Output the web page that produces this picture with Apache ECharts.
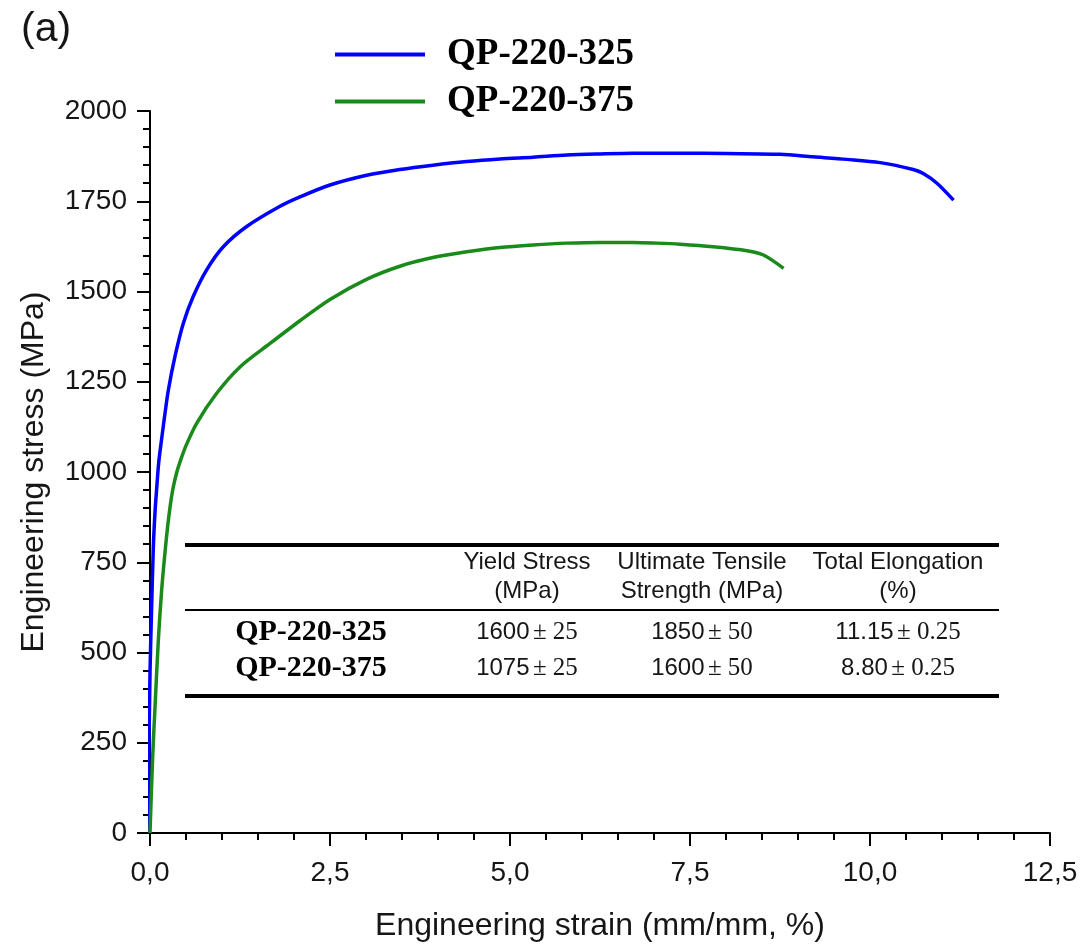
<!DOCTYPE html>
<html>
<head>
<meta charset="utf-8">
<script src="https://cdn.jsdelivr.net/npm/echarts@6/dist/echarts.min.js"></script>
<style>
html,body{margin:0;padding:0;background:#fff;}
#chart{width:1084px;height:949px;}
</style>
</head>
<body>
<div id="chart"></div>
<script>
// ---- data ----
const seriesNames = ['QP-220-325', 'QP-220-375'];

const strain325 = [-0.04, -0.02, 0.0, 0.023, 0.046, 0.07, 0.095, 0.12, 0.16, 0.2, 0.255, 0.347, 0.463, 0.60, 0.787, 1.018, 1.343, 1.806, 2.083, 2.5, 3.01, 3.47, 3.93, 4.40, 4.86, 5.32, 5.79, 6.25, 6.71, 7.36, 8.0, 8.75, 9.21, 9.68, 10.14, 10.6, 10.74, 10.93, 11.16];
const stress325 = [0, 166, 443, 627, 790, 890, 960, 1024, 1089, 1150, 1227, 1320, 1412, 1486, 1560, 1624, 1680, 1736, 1762, 1795, 1822, 1838, 1850, 1860, 1867, 1872, 1878, 1881, 1883, 1883, 1882, 1880, 1873, 1866, 1857, 1838, 1827, 1800, 1753];

const strain375 = [0.0, 0.037, 0.07, 0.116, 0.162, 0.20, 0.24, 0.28, 0.32, 0.37, 0.417, 0.50, 0.648, 0.926, 1.25, 1.667, 2.083, 2.5, 3.0, 3.47, 3.93, 4.40, 4.86, 5.32, 5.79, 6.25, 6.71, 7.04, 7.36, 7.82, 8.29, 8.52, 8.80];
const stress375 = [0, 211, 350, 535, 673, 760, 840, 905, 955, 998, 1028, 1073, 1135, 1218, 1291, 1356, 1419, 1478, 1533, 1570, 1594, 1610, 1622, 1629, 1634, 1636, 1636, 1634, 1631, 1624, 1613, 1601, 1564];

const tableHeaders = ['Yield Stress\n(MPa)', 'Ultimate Tensile\nStrength (MPa)', 'Total Elongation\n(%)'];
const tableRowLabels = ['QP-220-325', 'QP-220-375'];
const tableValues = [
  [['1600', '± 25'], ['1850', '± 50'], ['11.15', '± 0.25']],
  [['1075', '± 25'], ['1600', '± 50'], ['8.80', '± 0.25']]
];

const xTickLabels = ['0,0', '2,5', '5,0', '7,5', '10,0', '12,5'];

// ---- build ----
function zip(a, b) { return a.map((v, i) => [v, b[i]]); }

const SANS = '"Liberation Sans", Arial, sans-serif';
const SERIF = '"Liberation Serif", "Times New Roman", serif';
const TXT = '#161616';

const colX = [527, 702, 898];
const rowY = [632, 668];

const graphics = [];
// table rules
graphics.push({type:'line', shape:{x1:185, y1:545, x2:999, y2:545}, style:{stroke:'#000', lineWidth:4}});
graphics.push({type:'line', shape:{x1:185, y1:610, x2:999, y2:610}, style:{stroke:'#000', lineWidth:2}});
graphics.push({type:'line', shape:{x1:185, y1:696, x2:999, y2:696}, style:{stroke:'#000', lineWidth:4}});
tableHeaders.forEach((h, i) => {
  graphics.push({type:'text', style:{text:h, x:colX[i], y:577, align:'center', verticalAlign:'middle',
    fontFamily:SANS, fontSize:24, lineHeight:29, fill:TXT}});
});
tableRowLabels.forEach((r, j) => {
  graphics.push({type:'text', style:{text:r, x:311, y:rowY[j], align:'center', verticalAlign:'middle',
    fontFamily:SERIF, fontWeight:'bold', fontSize:30, fill:'#000'}});
  tableValues[j].forEach((v, i) => {
    graphics.push({type:'text', style:{text:'{a|' + v[0] + '} {b|' + v[1] + '}', x:colX[i], y:rowY[j],
      align:'center', verticalAlign:'middle',
      rich:{a:{fontFamily:SANS, fontSize:24, fill:TXT}, b:{fontFamily:SERIF, fontSize:25, fill:TXT}}}});
  });
});

const chart = echarts.init(document.getElementById('chart'), null, {renderer:'canvas'});
chart.setOption({
  backgroundColor:'#fff',
  animation:false,
  title:{text:'(a)', left:16, top:4, textStyle:{fontFamily:SANS, fontWeight:'normal', fontSize:41, color:TXT}},
  legend:{
    orient:'vertical', left:330, top:31, itemWidth:90, itemHeight:4, itemGap:10, icon:'rect',
    data:seriesNames,
    textStyle:{fontFamily:SERIF, fontWeight:'bold', fontSize:37, lineHeight:36, color:'#000', padding:[0,0,0,17]}
  },
  grid:{left:150, right:34, top:111, bottom:116, containLabel:false},
  xAxis:{
    type:'value', min:0, max:12.5, interval:2.5,
    name:'Engineering strain (mm/mm, %)', nameLocation:'middle', nameGap:77,
    nameTextStyle:{fontFamily:SANS, fontSize:32, color:TXT},
    axisLine:{show:true, lineStyle:{color:'#000', width:2}},
    axisTick:{show:true, length:13, lineStyle:{color:'#000', width:2}},
    minorTick:{show:true, splitNumber:5, length:7, lineStyle:{color:'#000', width:2}},
    splitLine:{show:false},
    axisLabel:{margin:26, fontFamily:SANS, fontSize:28, color:TXT,
      formatter:(v) => xTickLabels[Math.round(v / 2.5)]}
  },
  yAxis:{
    type:'value', min:0, max:2000, interval:250,
    name:'Engineering stress (MPa)', nameLocation:'middle', nameGap:100,
    nameTextStyle:{fontFamily:SANS, fontSize:32, color:TXT},
    axisLine:{show:true, lineStyle:{color:'#000', width:2}},
    axisTick:{show:true, length:13, lineStyle:{color:'#000', width:2}},
    minorTick:{show:true, splitNumber:5, length:7, lineStyle:{color:'#000', width:2}},
    splitLine:{show:false},
    axisLabel:{margin:23, fontFamily:SANS, fontSize:28, color:TXT, formatter:(v) => String(v)}
  },
  series:[
    {name:seriesNames[0], type:'line', data:zip(strain325, stress325), showSymbol:false, clip:false,
      smooth:0.3, color:'#0000ff', lineStyle:{color:'#0000ff', width:3.5}},
    {name:seriesNames[1], type:'line', data:zip(strain375, stress375), showSymbol:false, clip:false,
      smooth:0.3, color:'#1a8a1a', lineStyle:{color:'#1a8a1a', width:3.5}}
  ],
  graphic:graphics
});
</script>
</body>
</html>
